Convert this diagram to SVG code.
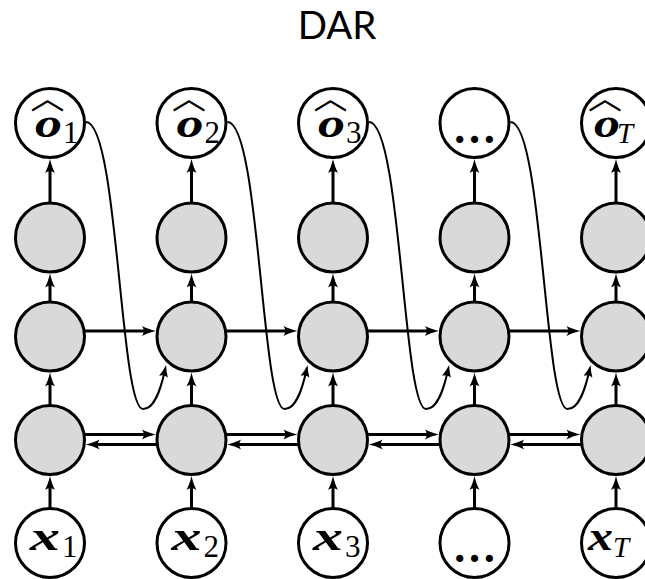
<svg xmlns="http://www.w3.org/2000/svg" width="645" height="579" viewBox="0 0 645 579">
  <style>
    .node { stroke: #000; stroke-width: 3; }
    .io { fill: #fff; }
    .hid { fill: #d9d9d9; }
    .edge { fill: none; stroke: #000; stroke-width: 3; }
    .loop { fill: none; stroke: #000; stroke-width: 2; }
    .bi { font-family: "Liberation Serif", "DejaVu Serif", serif; font-weight: bold; font-style: italic; font-size: 42px; }
    .sub { font-family: "Liberation Serif", "DejaVu Serif", serif; font-weight: normal; font-style: normal; font-size: 31px; }
    .subi { font-family: "Liberation Serif", "DejaVu Serif", serif; font-weight: normal; font-style: italic; font-size: 29px; }
    .hat { font-family: "Noto Sans CJK SC", "Noto Sans CJK JP", sans-serif; font-weight: normal; font-style: normal; font-size: 32px; }
    .dots { font-family: "Liberation Serif", "DejaVu Serif", serif; font-weight: bold; font-size: 44px; }
    .title { font-family: Lato, "Open Sans", "Liberation Sans", sans-serif; font-size: 38.5px; }
  </style>
  <defs>
    <marker id="ah" markerUnits="userSpaceOnUse" viewBox="-9 -6 16 12" refX="0" refY="0" markerWidth="16" markerHeight="12" orient="auto" overflow="visible">
      <path d="M6,0 C1,-1.2 -4,-2.8 -8,-5 C-5.5,-2 -5.5,2 -8,5 C-4,2.8 1,1.2 6,0 Z" fill="#000"/>
    </marker>
    <marker id="ahs" markerUnits="userSpaceOnUse" viewBox="-8 -5 14 10" refX="0" refY="0" markerWidth="14" markerHeight="10" orient="auto" overflow="visible">
      <path d="M5,0 C1,-1 -3,-2.5 -7,-4.5 C-5,-1.8 -5,1.8 -7,4.5 C-3,2.5 1,1 5,0 Z" fill="#000"/>
    </marker>
  </defs>

  <text class="title" x="337" y="39" text-anchor="middle">DAR</text>

  <!-- connectors -->
  <g id="connectors">
    <!-- hidden layer 2 to outputs -->
    <path class="edge" marker-end="url(#ah)" d="M50,202.5 V165"/>
    <path class="edge" marker-end="url(#ah)" d="M191.5,202.5 V165"/>
    <path class="edge" marker-end="url(#ah)" d="M333,202.5 V165"/>
    <path class="edge" marker-end="url(#ah)" d="M474.5,202.5 V165"/>
    <path class="edge" marker-end="url(#ah)" d="M616,202.5 V165"/>
    <!-- recurrent layer to hidden layer 2 -->
    <path class="edge" marker-end="url(#ah)" d="M50,301.5 V279.5"/>
    <path class="edge" marker-end="url(#ah)" d="M191.5,301.5 V279.5"/>
    <path class="edge" marker-end="url(#ah)" d="M333,301.5 V279.5"/>
    <path class="edge" marker-end="url(#ah)" d="M474.5,301.5 V279.5"/>
    <path class="edge" marker-end="url(#ah)" d="M616,301.5 V279.5"/>
    <!-- bidirectional layer to recurrent layer -->
    <path class="edge" marker-end="url(#ah)" d="M50,405 V378.5"/>
    <path class="edge" marker-end="url(#ah)" d="M191.5,405 V378.5"/>
    <path class="edge" marker-end="url(#ah)" d="M333,405 V378.5"/>
    <path class="edge" marker-end="url(#ah)" d="M474.5,405 V378.5"/>
    <path class="edge" marker-end="url(#ah)" d="M616,405 V378.5"/>
    <!-- inputs to bidirectional layer -->
    <path class="edge" marker-end="url(#ah)" d="M50,508 V482"/>
    <path class="edge" marker-end="url(#ah)" d="M191.5,508 V482"/>
    <path class="edge" marker-end="url(#ah)" d="M333,508 V482"/>
    <path class="edge" marker-end="url(#ah)" d="M474.5,508 V482"/>
    <path class="edge" marker-end="url(#ah)" d="M616,508 V482"/>
    <!-- forward recurrence -->
    <path class="edge" marker-end="url(#ah)" d="M85,331 H149.9"/>
    <path class="edge" marker-end="url(#ah)" d="M226.5,331 H291.4"/>
    <path class="edge" marker-end="url(#ah)" d="M368,331 H432.9"/>
    <path class="edge" marker-end="url(#ah)" d="M509.5,331 H574.4"/>
    <!-- bidirectional pairs: forward -->
    <path class="edge" marker-end="url(#ah)" d="M85,434.5 H149.9"/>
    <path class="edge" marker-end="url(#ah)" d="M226.5,434.5 H291.4"/>
    <path class="edge" marker-end="url(#ah)" d="M368,434.5 H432.9"/>
    <path class="edge" marker-end="url(#ah)" d="M509.5,434.5 H574.4"/>
    <!-- bidirectional pairs: backward -->
    <path class="edge" marker-end="url(#ah)" d="M156.5,444.5 H91.7"/>
    <path class="edge" marker-end="url(#ah)" d="M298,444.5 H233.2"/>
    <path class="edge" marker-end="url(#ah)" d="M439.5,444.5 H374.7"/>
    <path class="edge" marker-end="url(#ah)" d="M581,444.5 H516.2"/>
    <!-- output fed back to the next step -->
    <path class="loop" marker-end="url(#ahs)" d="M86,122 C118,122 120,409 143,409 C155,409 161,388 165,370"/>
    <path class="loop" marker-end="url(#ahs)" d="M227.5,122 C259.5,122 261.5,409 284.5,409 C296.5,409 302.5,388 306.5,370"/>
    <path class="loop" marker-end="url(#ahs)" d="M369,122 C401,122 403,409 426,409 C438,409 444,388 448,370"/>
    <path class="loop" marker-end="url(#ahs)" d="M510.5,122 C542.5,122 544.5,409 567.5,409 C579.5,409 585.5,388 589.5,370"/>
  </g>

  <!-- output nodes -->
  <g id="o1">
    <circle class="node io" cx="50" cy="123" r="34.5"/>
    <text><tspan class="hat" x="30.5" y="109" textLength="34" lengthAdjust="spacingAndGlyphs">︿</tspan><tspan class="bi" x="35" y="136.5" textLength="27" lengthAdjust="spacingAndGlyphs">o</tspan><tspan class="sub" x="63" y="142.5">1</tspan></text>
  </g>
  <g id="o2">
    <circle class="node io" cx="191.5" cy="123" r="34.5"/>
    <text><tspan class="hat" x="172" y="109" textLength="34" lengthAdjust="spacingAndGlyphs">︿</tspan><tspan class="bi" x="176.5" y="136.5" textLength="27" lengthAdjust="spacingAndGlyphs">o</tspan><tspan class="sub" x="204.5" y="142.5">2</tspan></text>
  </g>
  <g id="o3">
    <circle class="node io" cx="333" cy="123" r="34.5"/>
    <text><tspan class="hat" x="313.5" y="109" textLength="34" lengthAdjust="spacingAndGlyphs">︿</tspan><tspan class="bi" x="318" y="136.5" textLength="27" lengthAdjust="spacingAndGlyphs">o</tspan><tspan class="sub" x="346" y="142.5">3</tspan></text>
  </g>
  <g id="o4">
    <circle class="node io" cx="474.5" cy="123" r="34.5"/>
    <text class="dots" x="474.5" y="143" text-anchor="middle">…</text>
  </g>
  <g id="oT">
    <circle class="node io" cx="616" cy="123" r="34.5"/>
    <text><tspan class="hat" x="588" y="109" textLength="34" lengthAdjust="spacingAndGlyphs">︿</tspan><tspan class="bi" x="594" y="136.5" textLength="26" lengthAdjust="spacingAndGlyphs">o</tspan><tspan class="subi" x="617" y="143">T</tspan></text>
  </g>

  <!-- hidden layer 2 -->
  <g id="h2-1"><circle class="node hid" cx="50" cy="237.5" r="34.5"/></g>
  <g id="h2-2"><circle class="node hid" cx="191.5" cy="237.5" r="34.5"/></g>
  <g id="h2-3"><circle class="node hid" cx="333" cy="237.5" r="34.5"/></g>
  <g id="h2-4"><circle class="node hid" cx="474.5" cy="237.5" r="34.5"/></g>
  <g id="h2-5"><circle class="node hid" cx="616" cy="237.5" r="34.5"/></g>

  <!-- recurrent layer -->
  <g id="r-1"><circle class="node hid" cx="50" cy="336.5" r="34.5"/></g>
  <g id="r-2"><circle class="node hid" cx="191.5" cy="336.5" r="34.5"/></g>
  <g id="r-3"><circle class="node hid" cx="333" cy="336.5" r="34.5"/></g>
  <g id="r-4"><circle class="node hid" cx="474.5" cy="336.5" r="34.5"/></g>
  <g id="r-5"><circle class="node hid" cx="616" cy="336.5" r="34.5"/></g>

  <!-- bidirectional layer -->
  <g id="b-1"><circle class="node hid" cx="50" cy="440" r="34.5"/></g>
  <g id="b-2"><circle class="node hid" cx="191.5" cy="440" r="34.5"/></g>
  <g id="b-3"><circle class="node hid" cx="333" cy="440" r="34.5"/></g>
  <g id="b-4"><circle class="node hid" cx="474.5" cy="440" r="34.5"/></g>
  <g id="b-5"><circle class="node hid" cx="616" cy="440" r="34.5"/></g>

  <!-- input nodes -->
  <g id="x1">
    <circle class="node io" cx="50" cy="543" r="34.5"/>
    <text><tspan class="bi" x="30" y="550" textLength="30" lengthAdjust="spacingAndGlyphs">x</tspan><tspan class="sub" x="62" y="556.5">1</tspan></text>
  </g>
  <g id="x2">
    <circle class="node io" cx="191.5" cy="543" r="34.5"/>
    <text><tspan class="bi" x="171.5" y="550" textLength="30" lengthAdjust="spacingAndGlyphs">x</tspan><tspan class="sub" x="203.5" y="556.5">2</tspan></text>
  </g>
  <g id="x3">
    <circle class="node io" cx="333" cy="543" r="34.5"/>
    <text><tspan class="bi" x="313" y="550" textLength="30" lengthAdjust="spacingAndGlyphs">x</tspan><tspan class="sub" x="345" y="556.5">3</tspan></text>
  </g>
  <g id="x4">
    <circle class="node io" cx="474.5" cy="543" r="34.5"/>
    <text class="dots" x="474.5" y="562" text-anchor="middle">…</text>
  </g>
  <g id="xT">
    <circle class="node io" cx="616" cy="543" r="34.5"/>
    <text><tspan class="bi" x="588" y="550" textLength="25" lengthAdjust="spacingAndGlyphs">x</tspan><tspan class="subi" x="613" y="557">T</tspan></text>
  </g>
</svg>
